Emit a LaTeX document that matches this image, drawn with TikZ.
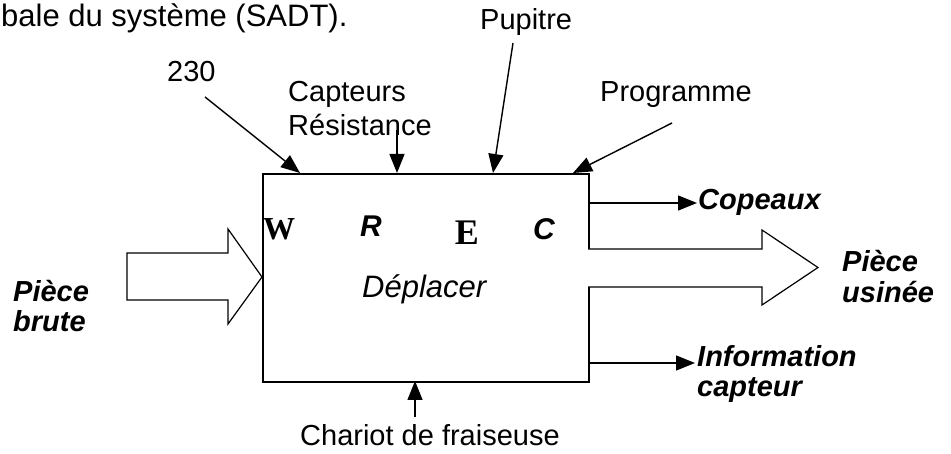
\documentclass[tikz,border=0pt]{standalone}
\usepackage{fontspec}
\setmainfont{Liberation Sans}
\newfontfamily\serifbold{Liberation Serif}
\usetikzlibrary{arrows.meta}
\tikzset{
  lbl/.style={inner sep=0pt, anchor=base west, font=\fontsize{29}{33}\selectfont},
  lblbi/.style={inner sep=0pt, anchor=base west, font=\fontsize{29}{33}\selectfont\bfseries\itshape},
  flow/.style={line width=1.4pt, -{Triangle[length=19pt,width=15pt]}},
  bigarrow/.style={draw, line width=1.2pt, fill=white},
}
\begin{document}
\begin{tikzpicture}[x=1pt,y=-1pt]
\useasboundingbox (0,0) rectangle (951,454);
% title
\node[inner sep=0pt, anchor=base west, font=\fontsize{31}{36}\selectfont] (title) at (1,27) {bale du système (SADT).};
% main box
\node[draw, line width=1.9pt, minimum width=326pt, minimum height=208pt, inner sep=0pt, anchor=north west] (box) at (262,173) {};
% letters inside
\node[inner sep=0pt, anchor=base, font=\fontsize{32}{36}\selectfont\serifbold\bfseries] (W) at (279,240) {W};
\node[inner sep=0pt, anchor=base, font=\fontsize{30}{34}\selectfont\bfseries\itshape] (R) at (371,237) {R};
\node[inner sep=0pt, anchor=base, font=\fontsize{36}{40}\selectfont\serifbold\bfseries] (E) at (467,245) {E};
\node[inner sep=0pt, anchor=base, font=\fontsize{30}{34}\selectfont\bfseries\itshape] (C) at (544,240) {C};
\node[inner sep=0pt, anchor=base west, font=\fontsize{31}{35}\selectfont\itshape] (dep) at (362,298) {Déplacer};
% top labels
\node[lbl] (l230) at (167,82) {230};
\node[lbl] (capt) at (288,102) {Capteurs};
\node[lbl] (resi) at (288,136) {Résistance};
\node[lbl] (pupi) at (480,30) {Pupitre};
\node[lbl] (prog) at (600,102) {Programme};
% top arrow coordinates
\coordinate (s230) at (205,97);
\coordinate (e230) at (300,173);
\coordinate (sres) at (397,130);
\coordinate (eres) at (397,173);
\coordinate (spup) at (513,43);
\coordinate (epup) at (493,173);
\coordinate (sprog) at (672,123);
\coordinate (eprog) at (573,173);
\draw[flow] (s230) -- (e230);
\draw[flow] (sres) -- (eres);
\draw[flow] (spup) -- (epup);
\draw[flow] (sprog) -- (eprog);
% bottom
\node[lbl] (char) at (300,445) {Chariot de fraiseuse};
\coordinate (schar) at (415,417);
\coordinate (echar) at (415,381);
\draw[flow] (schar) -- (echar);
% left big arrow
\draw[bigarrow] (127,253) -- (228,253) -- (228,229) -- (262,277) -- (228,324) -- (228,300) -- (127,300) -- cycle;
\node[lblbi] (piece1) at (13,302) {Pièce};
\node[lblbi] (brute) at (13,332) {brute};
% right outputs
\coordinate (scop) at (588,203);
\coordinate (ecop) at (697,203);
\draw[flow] (scop) -- (ecop);
\node[lblbi] (cop) at (698,210) {Copeaux};
\draw[bigarrow] (588,249) -- (762,249) -- (762,230) -- (818,267.5) -- (762,305) -- (762,287) -- (588,287);
\node[lblbi] (piece2) at (842,272) {Pièce};
\node[lblbi] (usin) at (842,303) {usinée};
\coordinate (sinf) at (588,363);
\coordinate (einf) at (695,363);
\draw[flow] (sinf) -- (einf);
\node[lblbi] (info) at (697,367) {Information};
\node[lblbi] (capt2) at (697,397) {capteur};
\end{tikzpicture}
\end{document}
